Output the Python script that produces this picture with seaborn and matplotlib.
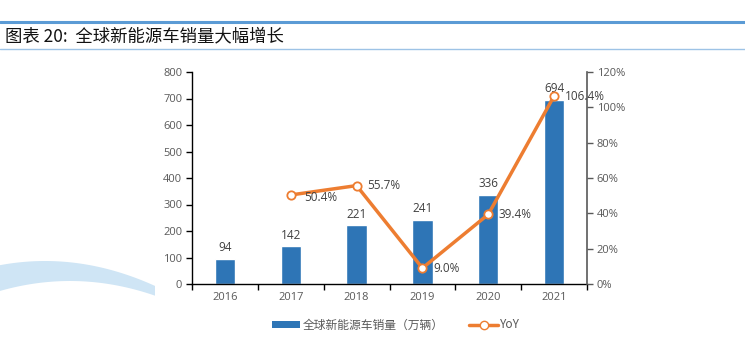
import numpy as np
import pandas as pd
import matplotlib
matplotlib.use("Agg")
import matplotlib.pyplot as plt
import seaborn as sns
from matplotlib.patches import Polygon
from matplotlib.lines import Line2D
from matplotlib.patches import Patch

years = ["2016", "2017", "2018", "2019", "2020", "2021"]
sales = [94, 142, 221, 241, 336, 694]
yoy_years = ["2017", "2018", "2019", "2020", "2021"]
yoy = [50.4, 55.7, 9.0, 39.4, 106.4]
left_ticks = [0, 100, 200, 300, 400, 500, 600, 700, 800]
right_ticks = [0, 20, 40, 60, 80, 100, 120]
title = "图表 20:  全球新能源车销量大幅增长"
bar_label = "全球新能源车销量（万辆）"
line_label = "YoY"

sns.set_theme(style="white")
plt.rcParams['font.family'] = ['Open Sans', 'Noto Sans CJK SC', 'DejaVu Sans']

BAR = "#2e75b6"
ORANGE = "#ed7d31"
GRAY = "#595959"

fig = plt.figure(figsize=(7.45, 3.41), dpi=100)
ax = fig.add_axes([192/745, 1-284/341, (587-192)/745, (284-72)/341])

df = pd.DataFrame({"year": years, "sales": sales})
sns.barplot(data=df, x="year", y="sales", color=BAR, width=0.31, ax=ax, saturation=1)
ax.set_xlim(-0.5, 5.5)
ax.set_ylim(0, 800)
ax.set_yticks(left_ticks)
ax.set_xlabel("")
ax.set_ylabel("")
for i, v in enumerate(sales):
    ax.text(i, v + 18, str(v), ha="center", va="bottom", fontsize=8.5, color="#404040")

ax.set_xticks(range(len(years)))
ax.set_xticklabels(years)
ax.set_xticks(np.arange(-0.5, 6.0, 1.0), minor=True)
ax.tick_params(axis="x", which="major", length=0, labelsize=8, labelcolor=GRAY, pad=6)
ax.tick_params(axis="x", which="minor", length=4, width=1, color="black", direction="out", bottom=True)
ax.tick_params(axis="y", length=4, width=1, color="black", direction="out", left=True, labelsize=8, labelcolor=GRAY, pad=3)
for s in ["top", "right"]:
    ax.spines[s].set_visible(False)
for s in ["left", "bottom"]:
    ax.spines[s].set_color("black")
    ax.spines[s].set_linewidth(1)

ax2 = ax.twinx()
pos = [years.index(y) for y in yoy_years]
ldf = pd.DataFrame({"x": pos, "yoy": yoy})
sns.lineplot(data=ldf, x="x", y="yoy", ax=ax2, color=ORANGE, linewidth=2.5,
             marker="o", markersize=6, markerfacecolor="white",
             markeredgecolor=ORANGE, markeredgewidth=1.3)
ax2.set_ylim(0, 120)
ax2.set_yticks(right_ticks)
ax2.set_yticklabels([f"{t}%" for t in right_ticks])
ax2.set_xlim(-0.5, 5.5)
ax2.set_xlabel("")
ax2.set_ylabel("")
ax2.tick_params(axis="y", length=4, width=1, color=GRAY, direction="out", right=True, labelsize=8, labelcolor=GRAY, pad=3)
for s in ["top", "left", "bottom"]:
    ax2.spines[s].set_visible(False)
ax2.spines["right"].set_color(GRAY)
ax2.spines["right"].set_linewidth(1.2)
for p, v in zip(pos, yoy):
    dy = -1.5 if 45 < v < 52 else 0
    dx = 0.2 if 45 < v < 52 else 0.16
    ax2.text(p + dx, v + dy, f"{v:.1f}%", ha="left", va="center", fontsize=8.5, color="#404040")

# legend
handles = [Patch(facecolor=BAR, edgecolor="none"),
           Line2D([0], [0], color=ORANGE, lw=2.5, marker="o", markersize=6,
                  markerfacecolor="white", markeredgecolor=ORANGE)]
fig.legend(handles, [bar_label, line_label], loc="center", bbox_to_anchor=(396/745, 1-325/341),
           ncol=2, frameon=False, handlelength=2.4, handleheight=0.5,
           columnspacing=2.2, handletextpad=0.2, labelcolor=GRAY,
           prop={'family': ['Noto Sans CJK SC', 'DejaVu Sans'], 'size': 8.5})

# title bar
fig.add_artist(Line2D([0, 1], [1-22/341, 1-22/341], color="#5b9bd5", lw=2.2, transform=fig.transFigure))
fig.add_artist(Line2D([0, 1], [1-49/341, 1-49/341], color="#9dc3e6", lw=1.0, transform=fig.transFigure))
fig.text(5/745, 1-36/341, title, ha="left", va="center", fontsize=12.5, color="#111111",
         family=['Noto Sans CJK SC', 'DejaVu Sans'], style="italic", weight="light")

# decorative watermark arc
xs = np.linspace(0, 155, 60)
outer = 261 + 0.00206 * (xs - 45) ** 2
inner = 281 + 0.00203 * (xs - 70) ** 2
pts = np.concatenate([np.column_stack([xs, 341 - outer]), np.column_stack([xs[::-1], 341 - inner[::-1]])])
fig.add_artist(Polygon(pts, closed=True, facecolor="#cfe5f5", edgecolor="none", transform=None, zorder=0))

fig.savefig("out.png", dpi=100)
